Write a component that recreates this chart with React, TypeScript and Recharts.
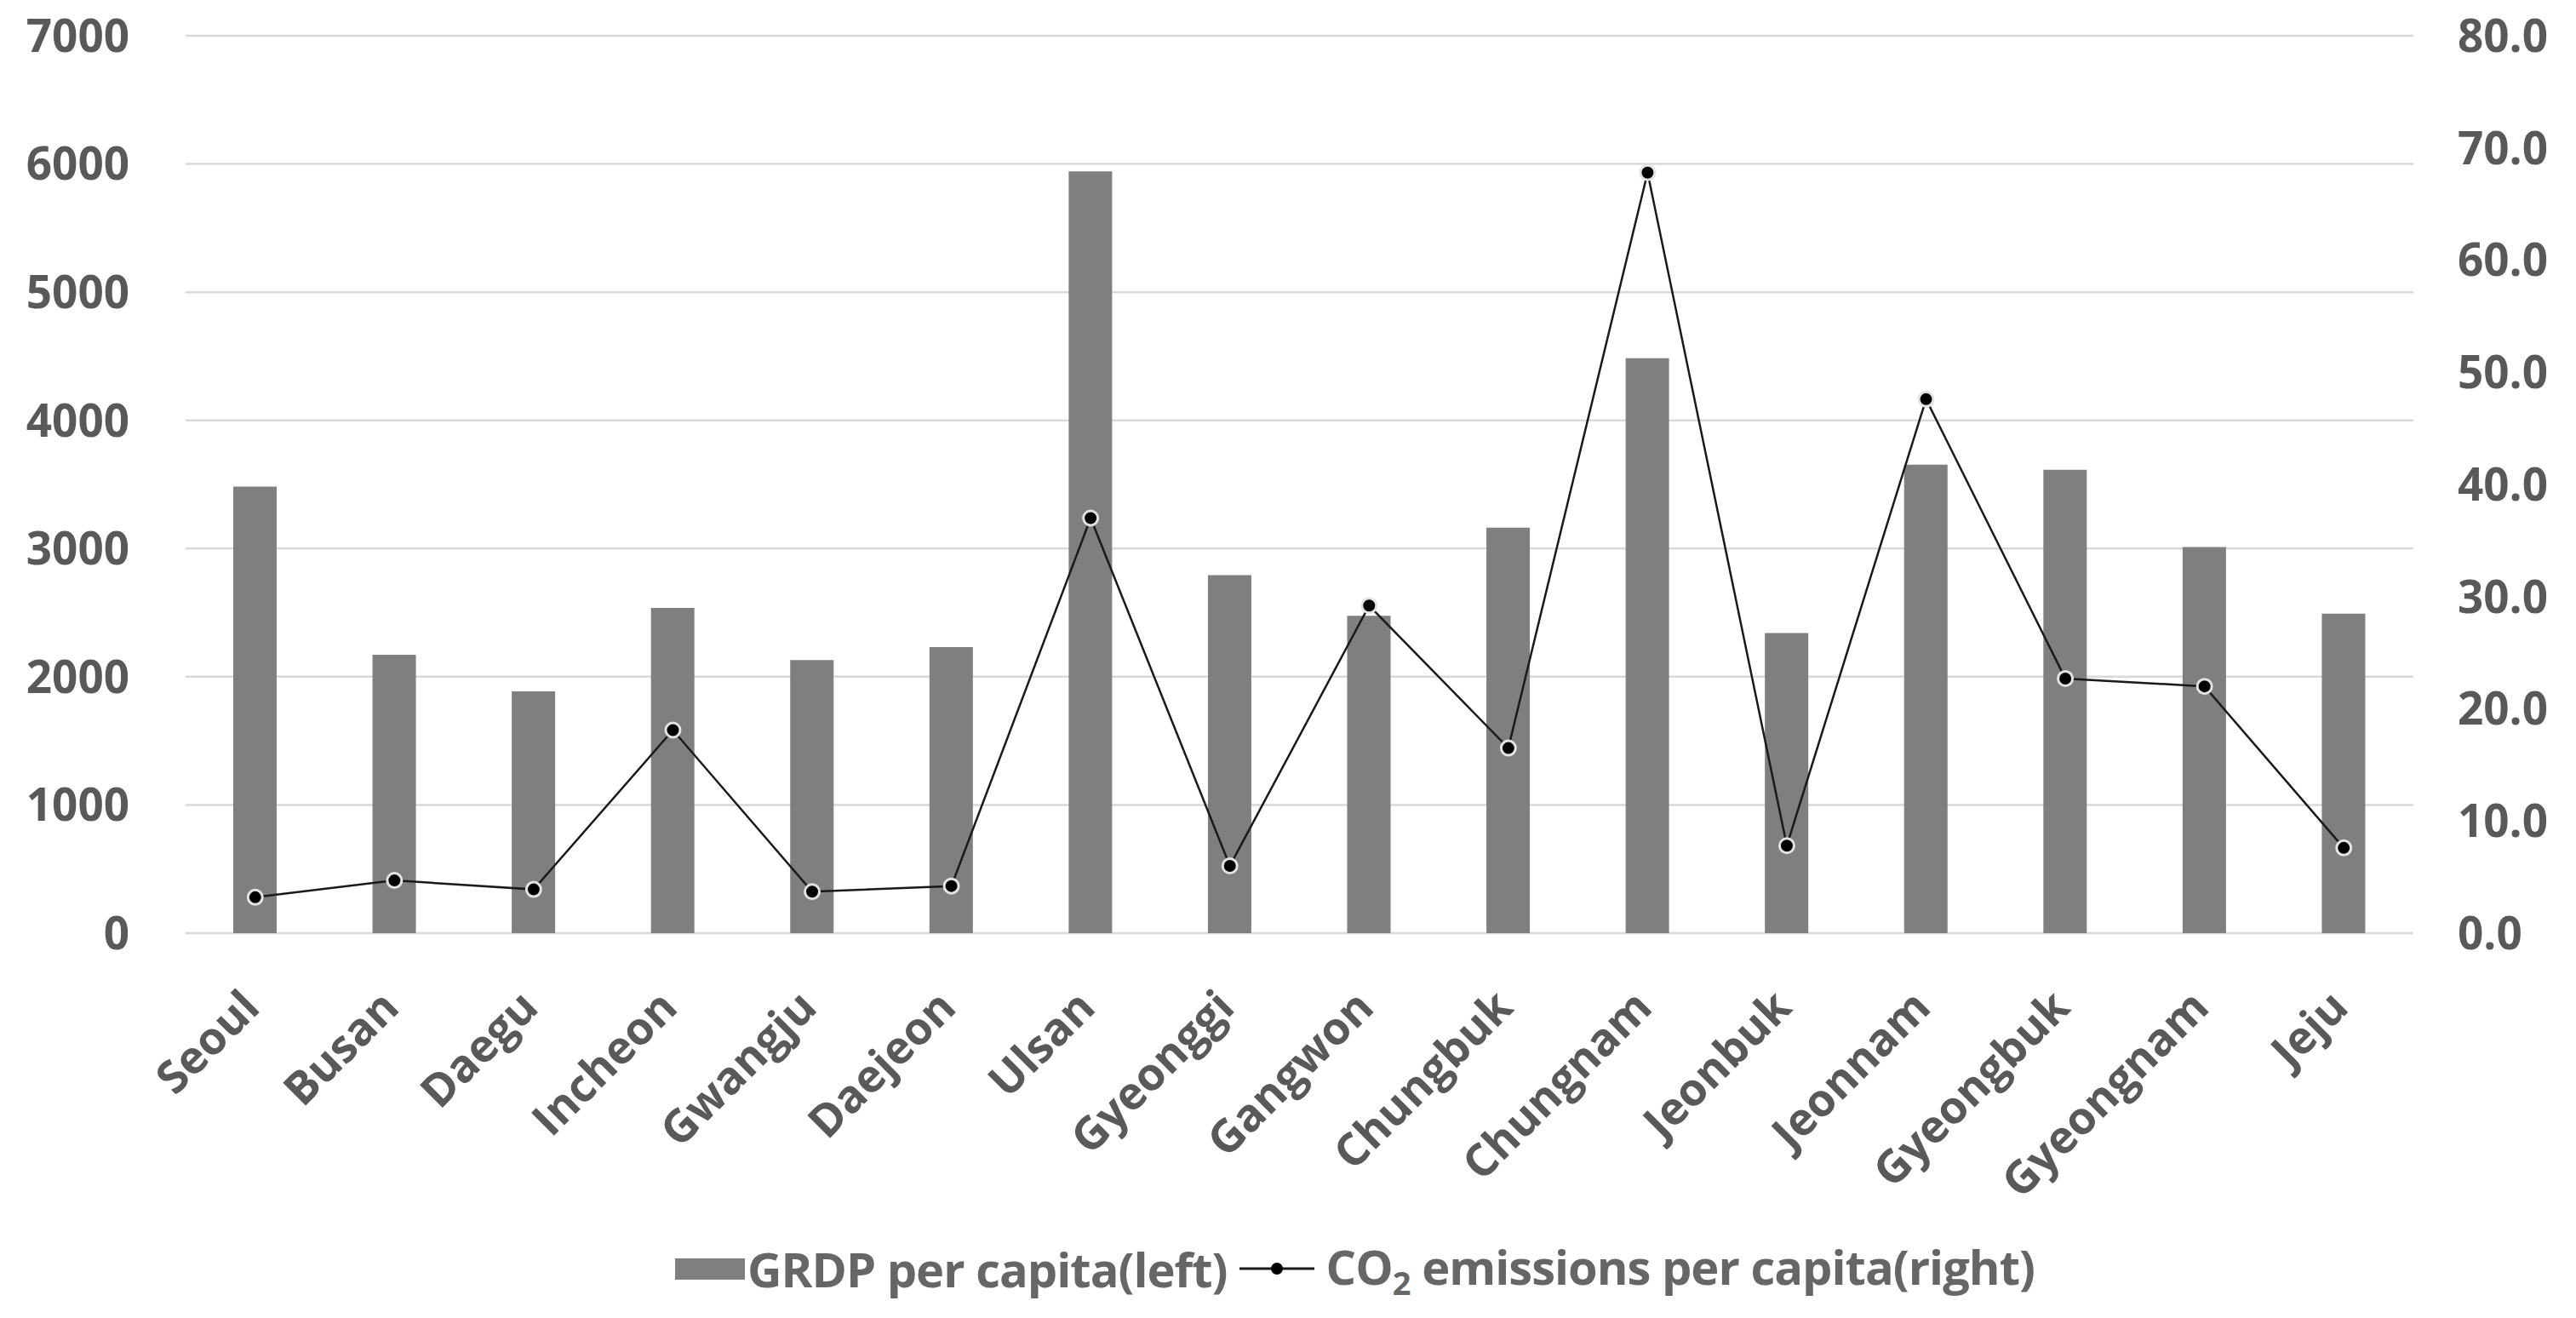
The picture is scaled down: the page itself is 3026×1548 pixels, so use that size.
import React from 'react';
import { ComposedChart, Bar, Line, XAxis, YAxis, CartesianGrid, Legend } from 'recharts';

const regions = [
  'Seoul', 'Busan', 'Daegu', 'Incheon', 'Gwangju', 'Daejeon', 'Ulsan', 'Gyeonggi',
  'Gangwon', 'Chungbuk', 'Chungnam', 'Jeonbuk', 'Jeonnam', 'Gyeongbuk', 'Gyeongnam', 'Jeju',
];
const grdpPerCapita = [3484, 2171, 1886, 2537, 2130, 2232, 5943, 2793, 2476, 3163, 4484, 2341, 3654, 3614, 3012, 2492];
const co2PerCapita = [3.2, 4.7, 3.9, 18.1, 3.7, 4.2, 37.0, 6.0, 29.2, 16.5, 67.8, 7.8, 47.6, 22.7, 22.0, 7.6];
const leftTicks = [0, 1000, 2000, 3000, 4000, 5000, 6000, 7000];
const rightTicks = [0, 10, 20, 30, 40, 50, 60, 70, 80];

const FONT = '"Open Sans", "Noto Sans", sans-serif';
const TICK_COLOR = '#595959';

const data = regions.map((region, i) => ({
  region,
  grdp: grdpPerCapita[i],
  co2: co2PerCapita[i],
}));

// rotated category label, end of text sits just below the bar
const RegionTick = ({ x, y, payload }: any) => {
  const px = x + 8;
  const py = y + 90;
  return (
    <text
      x={px}
      y={py}
      textAnchor="end"
      transform={`rotate(-45, ${px}, ${py})`}
      fill={TICK_COLOR}
      fontFamily={FONT}
      fontWeight={700}
      fontSize={53}
    >
      {payload.value}
    </text>
  );
};

const LegendContent = () => (
  <div
    style={{
      display: 'flex',
      alignItems: 'center',
      height: 80,
      fontFamily: FONT,
      fontWeight: 700,
      fontSize: 56,
      color: '#666666',
      whiteSpace: 'nowrap',
      letterSpacing: -1,
    }}
  >
    <span style={{ display: 'inline-block', width: 82, height: 25, background: '#7f7f7f', marginRight: 3 }} />
    <span>GRDP per capita(left)</span>
    <svg width={90} height={20} style={{ marginLeft: 14, marginRight: 12 }}>
      <line x1={0} y1={10} x2={88} y2={10} stroke="#1a1a1a" strokeWidth={3} />
      <circle cx={44} cy={10} r={7} fill="#000" />
    </svg>
    <span>
      CO<sub style={{ fontSize: 38, verticalAlign: -12 }}>2</sub> emissions per capita(right)
    </span>
  </div>
);

export default function App() {
  // pull the chart over the body margin so chart coords equal page coords
  return (
    <div style={{ width: 3026, height: 1548, margin: '-8px 0 0 -8px', background: '#fff' }}>
      <ComposedChart
        width={3026}
        height={1548}
        data={data}
        margin={{ top: 42, right: 0, left: 0, bottom: 252 }}
      >
        <CartesianGrid yAxisId="left" vertical={false} stroke="#d9d9d9" strokeWidth={2.5} />
        <XAxis
          dataKey="region"
          interval={0}
          height={200}
          axisLine={false}
          tickLine={false}
          tickSize={0}
          tickMargin={0}
          tick={<RegionTick />}
        />
        <YAxis
          yAxisId="left"
          orientation="left"
          width={218}
          domain={[0, 7000]}
          ticks={leftTicks}
          axisLine={false}
          tickLine={false}
          tickSize={0}
          tickMargin={66}
          tick={{ fill: TICK_COLOR, fontFamily: FONT, fontWeight: 700, fontSize: 53 }}
        />
        <YAxis
          yAxisId="right"
          orientation="right"
          width={191}
          domain={[0, 80]}
          ticks={rightTicks}
          axisLine={false}
          tickLine={false}
          tickSize={0}
          tickMargin={52}
          tickFormatter={(v: number) => v.toFixed(1)}
          tick={{ fill: TICK_COLOR, fontFamily: FONT, fontWeight: 700, fontSize: 53 }}
        />
        <Legend
          verticalAlign="middle"
          layout="horizontal"
          content={<LegendContent />}
          wrapperStyle={{ left: 793, top: 1450, width: 1700 }}
        />
        <Bar
          yAxisId="left"
          dataKey="grdp"
          name="GRDP per capita(left)"
          fill="#7f7f7f"
          barSize={51}
          isAnimationActive={false}
        />
        <Line
          yAxisId="right"
          dataKey="co2"
          name="CO2 emissions per capita(right)"
          type="linear"
          stroke="#1a1a1a"
          strokeWidth={2.5}
          dot={{ r: 8.5, fill: '#000', stroke: '#e3e3e3', strokeWidth: 3 }}
          activeDot={false}
          isAnimationActive={false}
        />
      </ComposedChart>
    </div>
  );
}
